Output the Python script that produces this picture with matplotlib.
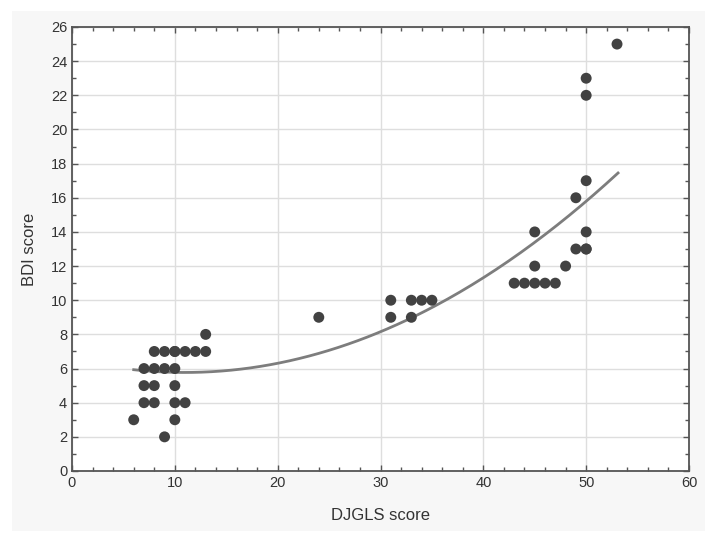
import numpy as np
import matplotlib
matplotlib.use("Agg")
import matplotlib.pyplot as plt
from matplotlib.patches import Rectangle
from matplotlib.ticker import MultipleLocator

# Data
djgls = [6, 7, 7, 7, 8, 8, 8, 8, 9, 9, 9, 10, 10, 10, 10, 10, 10, 11, 11, 12, 13, 13,
         24, 31, 31, 33, 33, 34, 35,
         43, 44, 45, 45, 45, 46, 47, 48, 49, 49, 50, 50, 50, 50, 50, 50, 53]
bdi = [3, 6, 5, 4, 7, 6, 5, 4, 7, 6, 2, 7, 6, 5, 4, 3, 7, 7, 4, 7, 8, 7,
       9, 10, 9, 10, 9, 10, 10,
       11, 11, 11, 12, 14, 11, 11, 12, 16, 13, 23, 22, 17, 14, 13, 13, 25]

# Fitted curve (x, y)
curve_x = [6, 10.5, 18.3, 20, 22.2, 30, 36.4, 40, 50, 53.1]
curve_y = [5.95, 5.78, 6.11, 6.3, 6.56, 8.16, 9.82, 11.7, 15.5, 17.6]

xticks = [0, 10, 20, 30, 40, 50, 60]
yticks = list(range(0, 27, 2))

plt.rcParams['font.family'] = ['Liberation Sans', 'DejaVu Sans']

fig = plt.figure(figsize=(7.17, 5.38), dpi=100, facecolor='white')
fig.patches.append(Rectangle((12/717, 1-531/538), (705-12)/717, (531-11)/538,
                             transform=fig.transFigure, facecolor='#f7f7f7',
                             edgecolor='none', zorder=-10))
ax = fig.add_axes([72/717, 1-471/538, (689-72)/717, (471-27)/538])
ax.set_facecolor('white')

# smooth quadratic through the read curve
coef = np.polyfit(curve_x, curve_y, 2)
xs = np.linspace(min(djgls), max(curve_x), 200)
ax.plot(xs, np.polyval(coef, xs), color='#7d7d7d', lw=2.0, zorder=2)

ax.scatter(djgls, bdi, s=62, color='#424242', edgecolors='none', zorder=3)

ax.set_xlim(0, 60)
ax.set_ylim(0, 26)
ax.set_xticks(xticks)
ax.set_yticks(yticks)
ax.xaxis.set_minor_locator(MultipleLocator(2))
ax.yaxis.set_minor_locator(MultipleLocator(1))
ax.grid(True, which='major', color='#dedede', lw=1.0, zorder=0)
ax.set_axisbelow(True)
ax.tick_params(which='both', direction='in', top=True, right=True, colors='#555555',
               labelcolor='#333333', labelsize=10.5)
ax.tick_params(which='major', length=4, width=1)
ax.tick_params(which='minor', length=3, width=1)
for s in ax.spines.values():
    s.set_color('#555555')
    s.set_linewidth(1.3)

ax.set_xlabel('DJGLS score', fontsize=12, color='#333333', labelpad=13)
ax.set_ylabel('BDI score', fontsize=12, color='#333333', labelpad=10)

fig.savefig('out.png', dpi=100, facecolor='white')
print(coef)
